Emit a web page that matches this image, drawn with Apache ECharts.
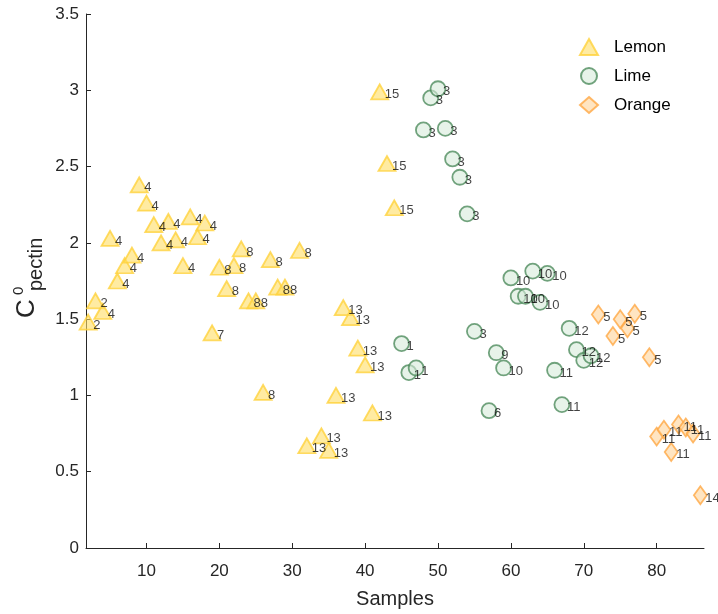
<!DOCTYPE html>
<html>
<head>
<meta charset="utf-8">
<script src="https://cdn.jsdelivr.net/npm/echarts@6/dist/echarts.min.js"></script>
<style>
html,body{margin:0;padding:0;background:#fff;}
#chart{width:718px;height:614px;}
</style>
</head>
<body>
<div id="chart"></div>
<script>
// ---- data ----
const lemonX   = [2,3,4,5,6,7,8,9,10,11,12,13,14,15,16,17,18,19,20,21,22,23,24,25,26,27,28,29,31,32,34,35,36,37,38,39,40,41,42,43,44];
const lemonY   = [1.48,1.62,1.55,2.03,1.75,1.85,1.92,2.38,2.26,2.12,2.00,2.14,2.02,1.85,2.17,2.04,2.13,1.41,1.84,1.70,1.85,1.96,1.62,1.62,1.02,1.89,1.71,1.71,1.95,0.67,0.735,0.64,1.00,1.575,1.51,1.31,1.20,0.885,2.99,2.52,2.23];
const lemonLab = [2,2,4,4,4,4,4,4,4,4,4,4,4,4,4,4,4,7,8,8,8,8,8,8,8,8,8,8,8,13,13,13,13,13,13,13,13,13,15,15,15];

const limeX   = [45,46,47,48,49,50,51,52,53,54,55,57,58,59,60,61,62,63,64,65,66,67,68,69,70,71];
const limeY   = [1.34,1.15,1.18,2.74,2.95,3.01,2.75,2.55,2.43,2.19,1.42,0.90,1.28,1.18,1.77,1.65,1.65,1.815,1.61,1.80,1.165,0.94,1.44,1.30,1.23,1.26];
const limeLab = [1,1,1,3,3,3,3,3,3,3,3,6,9,10,10,10,10,10,10,10,11,11,12,12,12,12];

const orangeX   = [72,74,75,76,77,79,80,81,82,83,84,85,86];
const orangeY   = [1.53,1.39,1.50,1.44,1.535,1.25,0.73,0.775,0.63,0.81,0.79,0.75,0.345];
const orangeLab = [5,5,5,5,5,5,11,11,11,11,11,11,14];

const xTicks = [10,20,30,40,50,60,70,80];
const seriesNames = ['Lemon','Lime','Orange'];

function pts(xs, ys, ls){ return xs.map((x,i)=>[x, ys[i], ls[i]]); }

const FONT = '"Liberation Sans", Arial, Helvetica, sans-serif';
const labelCfg = {
  show: true, position: 'inside', align: 'left', verticalAlign: 'middle',
  offset: [5, 3], fontSize: 13, color: '#111', fontFamily: FONT,
  formatter: p => String(p.value[2])
};

const chart = echarts.init(document.getElementById('chart'), null, {renderer:'canvas'});
chart.setOption({
  animation: false,
  backgroundColor: '#fff',
  textStyle: {fontFamily: FONT},
  grid: {left: 86, right: 14, top: 14, bottom: 64, containLabel: false},
  legend: {
    orient: 'vertical', left: 574, top: 33, itemWidth: 18, itemHeight: 16, itemGap: 11,
    textStyle: {fontSize: 17, color: '#000', fontFamily: FONT, padding: [0,0,0,11]},
    data: seriesNames
  },
  xAxis: {
    type: 'value', min: 1.7, max: 86.5,
    name: 'Samples', nameLocation: 'middle', nameGap: 41,
    nameTextStyle: {fontSize: 20, color: '#262626', fontFamily: FONT},
    axisLine: {show: true, lineStyle: {color: '#262626', width: 1}},
    axisTick: {show: true, inside: true, length: 5, customValues: xTicks, lineStyle: {color: '#262626'}},
    axisLabel: {customValues: xTicks, fontSize: 17, color: '#262626', margin: 15, fontFamily: FONT},
    splitLine: {show: false}
  },
  yAxis: {
    type: 'value', min: 0, max: 3.5, interval: 0.5,
    axisLine: {show: true, lineStyle: {color: '#262626', width: 1}},
    axisTick: {show: true, inside: true, length: 5, lineStyle: {color: '#262626'}},
    axisLabel: {fontSize: 17, color: '#262626', margin: 7, fontFamily: FONT},
    splitLine: {show: false}
  },
  graphic: [{
    type: 'group', x: 0, y: 277, rotation: Math.PI/2,
    children: [
      {type: 'text', x: -41, y: 27, style: {text: 'C', font: '26px ' + FONT, fill: '#262626', verticalAlign: 'middle'}},
      {type: 'text', x: -18, y: 19, style: {text: '0', font: '15px ' + FONT, fill: '#262626', verticalAlign: 'middle'}},
      {type: 'text', x: -14, y: 36, style: {text: 'pectin', font: '20px ' + FONT, fill: '#262626', verticalAlign: 'middle'}}
    ]
  }],
  series: [
    {
      name: 'Lemon', type: 'scatter', symbol: 'triangle', symbolSize: [17, 15],
      itemStyle: {color: 'rgba(255,221,100,0.75)', borderColor: '#FFD23C', borderWidth: 1.8},
      label: labelCfg, data: pts(lemonX, lemonY, lemonLab)
    },
    {
      name: 'Lime', type: 'scatter', symbol: 'circle', symbolSize: 15,
      itemStyle: {color: 'rgba(215,235,219,0.75)', borderColor: '#4F8C5E', borderWidth: 1.8},
      label: labelCfg, data: pts(limeX, limeY, limeLab)
    },
    {
      name: 'Orange', type: 'scatter', symbol: 'diamond', symbolSize: [13, 18],
      itemStyle: {color: 'rgba(255,214,160,0.8)', borderColor: '#FFA843', borderWidth: 1.8},
      label: labelCfg, data: pts(orangeX, orangeY, orangeLab)
    }
  ]
});
</script>
</body>
</html>
